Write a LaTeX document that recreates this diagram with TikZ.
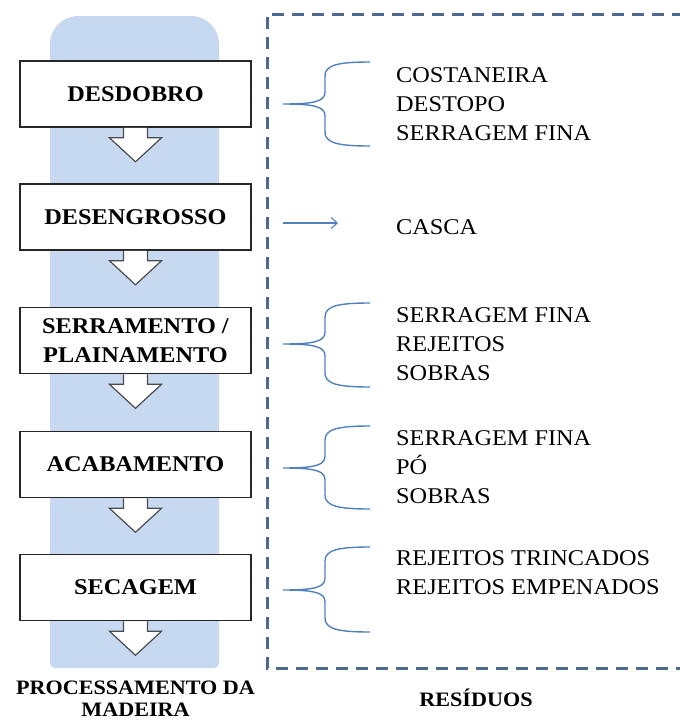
\documentclass[tikz,border=0pt]{standalone}
\usepackage{fontspec}
\setmainfont{Liberation Serif}[FakeStretch=1.08]
\usetikzlibrary{positioning}
\usetikzlibrary{arrows.meta}

\definecolor{colunaazul}{HTML}{C6D9F1}
\definecolor{tracejado}{HTML}{4A6890}
\definecolor{azulchave}{HTML}{4F81BD}

\tikzset{
  etapa/.style={draw=black!85, line width=1.6pt, fill=white,
    minimum width=231pt, minimum height=66pt, inner sep=0pt,
    align=center, font=\fontsize{22.5}{29}\selectfont\bfseries},
  seta/.style={draw=black!70, line width=1.2pt, fill=white},
  chave/.style={draw=azulchave, line width=1.4pt},
  residuo/.style={anchor=west, align=left, inner sep=0pt,
    font=\fontsize{22.5}{29}\selectfont},
  titulo/.style={align=center, font=\fontsize{20.5}{22}\selectfont\bfseries}
}

\begin{document}
\begin{tikzpicture}[x=1pt,y=-1pt]
\useasboundingbox (0,0) rectangle (680,724);

% coluna azul
\fill[colunaazul, rounded corners=28pt] (50,16) rectangle (219,80);
\fill[colunaazul, rounded corners=5pt] (50,50) rectangle (219,668);

% moldura dos residuos
\draw[tracejado, line width=3pt, dash pattern=on 12pt off 8pt]
  (684,14) -| (267,668) -- (684,668);

% etapas
\node[etapa] (desdobro) at (135.5,94) {DESDOBRO};
\node[etapa] (desengrosso) at (135.5,217) {DESENGROSSO};
\node[etapa] (serramento) at (135.5,340.5) {SERRAMENTO /\\PLAINAMENTO};
\node[etapa] (acabamento) at (135.5,464.5) {ACABAMENTO};
\node[etapa] (secagem) at (135.5,587.5) {SECAGEM};

\foreach \n in {desdobro,desengrosso,serramento,acabamento,secagem}
  \draw[seta] ([xshift=-12pt]\n.south) -- ++(0,10) -- ++(-14,0)
    -- ++(26,24) -- ++(26,-24) -- ++(-14,0) -- ++(0,-10);

% residuos
\node[residuo] (res1) at (396,104) {COSTANEIRA\\DESTOPO\\SERRAGEM FINA};
\node[residuo] (res2) at (396,227) {CASCA};
\node[residuo] (res3) at (396,344) {SERRAGEM FINA\\REJEITOS\\SOBRAS};
\node[residuo] (res4) at (396,467) {SERRAGEM FINA\\PÓ\\SOBRAS};
\node[residuo] (res5) at (396,573) {REJEITOS TRINCADOS\\REJEITOS EMPENADOS};

% chaves
\foreach \ym/\yt/\yb in {104/62/146, 344/303/387, 468/426/509, 590/547/632}
  \draw[chave] (370,\yt) .. controls (338,\yt) and (325,\yt+3) .. (325,\yt+14)
    -- (325,\ym-12) .. controls (325,\ym-3) and (316,\ym) .. (283,\ym)
    .. controls (316,\ym) and (325,\ym+3) .. (325,\ym+12)
    -- (325,\yb-14) .. controls (325,\yb-3) and (338,\yb) .. (370,\yb);

\coordinate (casca-a) at (283,223);
\coordinate (casca-b) at (338,223);
\draw[chave, line width=1.1pt, -{Straight Barb[length=6pt,width=11pt]}] (casca-a) -- (casca-b);

% titulos
\node[titulo] (proc) at (135.5,699) {PROCESSAMENTO DA\\MADEIRA};
\node[titulo] (resid) at (476,698) {RESÍDUOS};
\end{tikzpicture}
\end{document}
